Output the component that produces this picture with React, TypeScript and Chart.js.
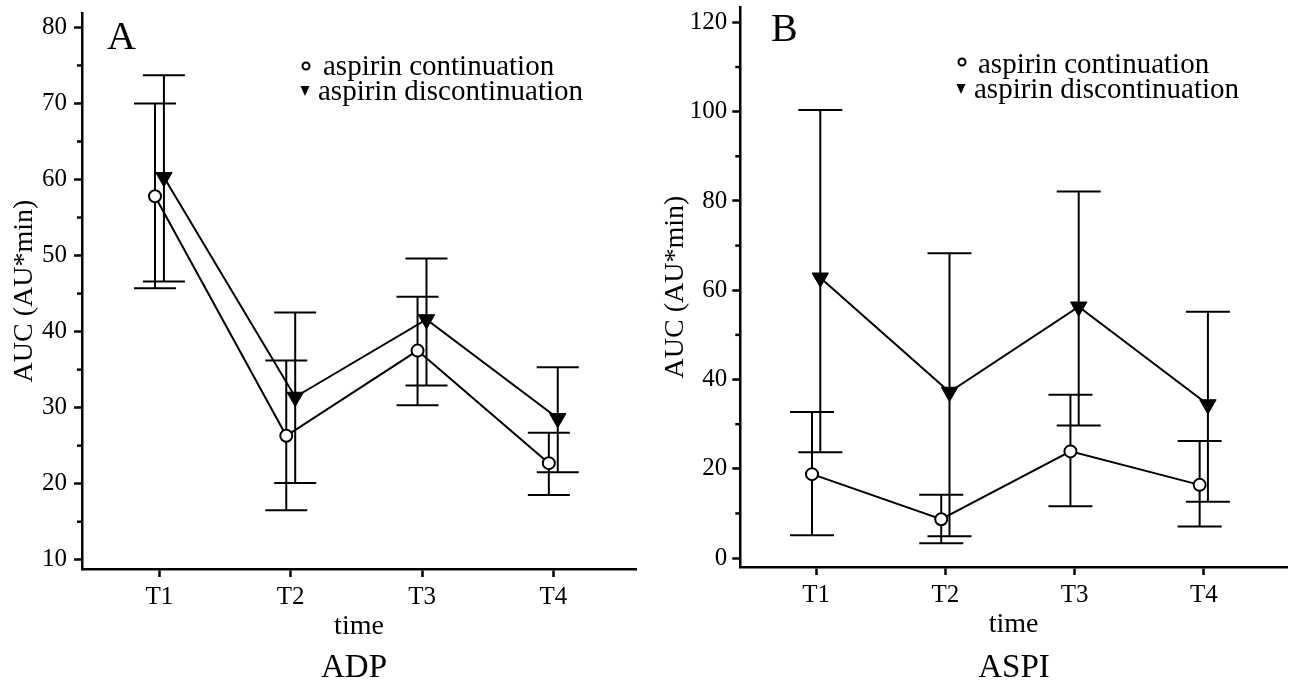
import React, { useEffect, useRef } from 'react';
import { Chart, registerables } from 'chart.js';

Chart.register(...registerables);

// ---------------- data ----------------
const timeLabels = ['T1', 'T2', 'T3', 'T4'];
const seriesNames = ['aspirin continuation', 'aspirin discontinuation'];

// Panel A: ADP
const adpContMean = [57.8, 26.3, 37.5, 22.7];
const adpContLow = [45.7, 16.5, 30.3, 18.5];
const adpContHigh = [70.0, 36.2, 44.6, 26.7];
const adpDiscMean = [60.3, 31.4, 41.6, 28.6];
const adpDiscLow = [46.6, 20.1, 32.9, 21.5];
const adpDiscHigh = [73.7, 42.5, 49.6, 35.3];

// Panel B: ASPI
const aspiContMean = [18.8, 8.7, 23.9, 16.4];
const aspiContLow = [5.1, 3.3, 11.6, 7.1];
const aspiContHigh = [32.7, 14.2, 36.6, 26.2];
const aspiDiscMean = [62.8, 37.2, 56.3, 34.4];
const aspiDiscLow = [23.7, 4.9, 29.7, 12.6];
const aspiDiscHigh = [100.4, 68.3, 82.1, 55.2];

const adpMajorTicks = [10, 20, 30, 40, 50, 60, 70, 80];
const adpMinorTicks = [15, 25, 35, 45, 55, 65, 75];
const aspiMajorTicks = [0, 20, 40, 60, 80, 100, 120];
const aspiMinorTicks = [10, 30, 50, 70, 90, 110];

const yTitle = 'AUC (AU*min)';
const xTitle = 'time';

// ---------------- styles ----------------
const FONT = '"Liberation Serif", "Times New Roman", Times, serif';
const BLACK = '#000000';

type Panel = {
  letter: string;
  title: string;
  contMean: number[]; contLow: number[]; contHigh: number[];
  discMean: number[]; discLow: number[]; discHigh: number[];
  major: number[]; minor: number[];
  yMin: number; yMax: number; xMin: number; xMax: number;
  canvasLeft: number; canvasWidth: number;
  padTop: number; padRight: number;
  yWidth: number; xHeight: number;
  yTitlePad: number; yTickPad: number; xTickPad: number; xTitlePad: number;
  capHalf: number; offset: number;
  letterX: number; letterY: number;
  legCircle: [number, number]; legText1: [number, number];
  legTri: [number, number]; legText2: [number, number];
  titleX: number; titleY: number;
};

const panels: Panel[] = [
  {
    letter: 'A', title: 'ADP',
    contMean: adpContMean, contLow: adpContLow, contHigh: adpContHigh,
    discMean: adpDiscMean, discLow: adpDiscLow, discHigh: adpDiscHigh,
    major: adpMajorTicks, minor: adpMinorTicks,
    yMin: 8.78, yMax: 81.9, xMin: 0.41, xMax: 4.63,
    canvasLeft: 0, canvasWidth: 645,
    padTop: 13, padRight: 9, yWidth: 82, xHeight: 117,
    yTitlePad: 8, yTickPad: 7, xTickPad: 5, xTitlePad: 43,
    capHalf: 21, offset: 0.034,
    letterX: 107, letterY: 49,
    legCircle: [306, 66], legText1: [323, 75],
    legTri: [305, 91], legText2: [318, 100],
    titleX: 354, titleY: 677,
  },
  {
    letter: 'B', title: 'ASPI',
    contMean: aspiContMean, contLow: aspiContLow, contHigh: aspiContHigh,
    discMean: aspiDiscMean, discLow: aspiDiscLow, discHigh: aspiDiscHigh,
    major: aspiMajorTicks, minor: aspiMinorTicks,
    yMin: -2.0, yMax: 123.45, xMin: 0.413, xMax: 4.644,
    canvasLeft: 645, canvasWidth: 646,
    padTop: 7, padRight: 4, yWidth: 95.3, xHeight: 119,
    yTitlePad: 14, yTickPad: 5, xTickPad: 5, xTitlePad: 45,
    capHalf: 22, offset: 0.032,
    letterX: 126, letterY: 41,
    legCircle: [317, 62], legText1: [333, 73],
    legTri: [316, 89], legText2: [329, 98],
    titleX: 369, titleY: 677,
  },
];

function PanelChart({ p }: { p: Panel }) {
  const ref = useRef<HTMLCanvasElement | null>(null);

  useEffect(() => {
    const canvas = ref.current;
    if (!canvas) return;

    const lows = [p.contLow, p.discLow];
    const highs = [p.contHigh, p.discHigh];

    const decor = {
      id: 'decor' + p.letter,
      beforeDatasetsDraw(chart: any) {
        const ctx = chart.ctx;
        const ys = chart.scales.y;
        ctx.save();
        ctx.strokeStyle = BLACK;
        ctx.lineWidth = 2;
        for (let d = 0; d < 2; d++) {
          const meta = chart.getDatasetMeta(d);
          meta.data.forEach((pt: any, j: number) => {
            const x = pt.x;
            const yl = ys.getPixelForValue(lows[d][j]);
            const yh = ys.getPixelForValue(highs[d][j]);
            ctx.beginPath();
            ctx.moveTo(x, yl);
            ctx.lineTo(x, yh);
            ctx.moveTo(x - p.capHalf, yl);
            ctx.lineTo(x + p.capHalf, yl);
            ctx.moveTo(x - p.capHalf, yh);
            ctx.lineTo(x + p.capHalf, yh);
            ctx.stroke();
          });
        }
        ctx.restore();
      },
      afterDraw(chart: any) {
        const ctx = chart.ctx;
        const ys = chart.scales.y;
        const left = chart.chartArea.left;
        ctx.save();
        // minor ticks
        ctx.strokeStyle = BLACK;
        ctx.lineWidth = 2.5;
        p.minor.forEach((v) => {
          const y = ys.getPixelForValue(v);
          ctx.beginPath();
          ctx.moveTo(left - 5, y);
          ctx.lineTo(left, y);
          ctx.stroke();
        });
        // panel letter
        ctx.fillStyle = BLACK;
        ctx.textBaseline = 'alphabetic';
        ctx.textAlign = 'left';
        ctx.font = `40px ${FONT}`;
        ctx.fillText(p.letter, p.letterX, p.letterY);
        // legend
        ctx.font = `29px ${FONT}`;
        ctx.fillText(seriesNames[0], p.legText1[0], p.legText1[1]);
        ctx.fillText(seriesNames[1], p.legText2[0], p.legText2[1]);
        ctx.beginPath();
        ctx.arc(p.legCircle[0], p.legCircle[1], 3.5, 0, Math.PI * 2);
        ctx.fillStyle = '#ffffff';
        ctx.fill();
        ctx.lineWidth = 2;
        ctx.strokeStyle = BLACK;
        ctx.stroke();
        ctx.beginPath();
        ctx.moveTo(p.legTri[0] - 4.5, p.legTri[1] - 5);
        ctx.lineTo(p.legTri[0] + 4.5, p.legTri[1] - 5);
        ctx.lineTo(p.legTri[0], p.legTri[1] + 5);
        ctx.closePath();
        ctx.fillStyle = BLACK;
        ctx.fill();
        // panel title below
        ctx.font = `33px ${FONT}`;
        ctx.textAlign = 'center';
        ctx.fillText(p.title, p.titleX, p.titleY);
        ctx.restore();
      },
    };

    const chart = new Chart(canvas, {
      type: 'line',
      data: {
        datasets: [
          {
            label: seriesNames[0],
            data: timeLabels.map((_, i) => ({ x: i + 1 - p.offset, y: p.contMean[i] })),
            borderColor: BLACK,
            borderWidth: 2,
            pointStyle: 'circle',
            pointRadius: 6,
            pointBackgroundColor: '#ffffff',
            pointBorderColor: BLACK,
            pointBorderWidth: 2,
            tension: 0,
          },
          {
            label: seriesNames[1],
            data: timeLabels.map((_, i) => ({ x: i + 1 + p.offset, y: p.discMean[i] })),
            borderColor: BLACK,
            borderWidth: 2,
            pointStyle: 'triangle',
            rotation: 180,
            pointRadius: 9.5,
            pointBackgroundColor: BLACK,
            pointBorderColor: BLACK,
            pointBorderWidth: 1,
            tension: 0,
          },
        ],
      },
      options: {
        animation: false,
        responsive: false,
        maintainAspectRatio: false,
        devicePixelRatio: 1,
        layout: {
          autoPadding: false,
          padding: { top: p.padTop, right: p.padRight, left: 0, bottom: 0 },
        },
        plugins: {
          legend: { display: false },
          tooltip: { enabled: false },
          title: { display: false },
        },
        scales: {
          x: {
            type: 'linear',
            min: p.xMin,
            max: p.xMax,
            afterBuildTicks: (s: any) => {
              s.ticks = timeLabels.map((_, i) => ({ value: i + 1 }));
            },
            afterFit: (s: any) => {
              s.height = p.xHeight;
              s.paddingLeft = 0;
              s.paddingRight = 0;
            },
            ticks: {
              color: BLACK,
              font: { family: FONT, size: 25 },
              padding: p.xTickPad,
              maxRotation: 0,
              autoSkip: false,
              callback: (v: any) => timeLabels[Math.round(Number(v)) - 1] ?? '',
            },
            grid: {
              display: true,
              drawOnChartArea: false,
              drawTicks: true,
              tickLength: 8,
              tickColor: BLACK,
              tickWidth: 2.5,
            },
            border: { display: true, color: BLACK, width: 2.5 },
            title: {
              display: true,
              text: xTitle,
              color: BLACK,
              font: { family: FONT, size: 28 },
              padding: { top: 0, bottom: p.xTitlePad },
            },
          },
          y: {
            type: 'linear',
            min: p.yMin,
            max: p.yMax,
            afterBuildTicks: (s: any) => {
              s.ticks = p.major.map((v) => ({ value: v }));
            },
            afterFit: (s: any) => {
              s.width = p.yWidth;
              s.paddingTop = 0;
              s.paddingBottom = 0;
            },
            ticks: {
              color: BLACK,
              font: { family: FONT, size: 25 },
              padding: p.yTickPad,
              autoSkip: false,
            },
            grid: {
              display: true,
              drawOnChartArea: false,
              drawTicks: true,
              tickLength: 8,
              tickColor: BLACK,
              tickWidth: 2.5,
            },
            border: { display: true, color: BLACK, width: 2.5 },
            title: {
              display: true,
              text: yTitle,
              color: BLACK,
              font: { family: FONT, size: 28 },
              padding: { top: p.yTitlePad, bottom: 0 },
            },
          },
        },
      },
      plugins: [decor],
    } as any);

    return () => chart.destroy();
  }, [p]);

  return (
    <canvas
      ref={ref}
      width={p.canvasWidth}
      height={686}
      style={{
        position: 'absolute',
        left: p.canvasLeft,
        top: 0,
        width: p.canvasWidth,
        height: 686,
        display: 'block',
      }}
    />
  );
}

export default function App() {
  return (
    <div
      style={{
        position: 'fixed',
        left: 0,
        top: 0,
        width: 1291,
        height: 686,
        background: '#ffffff',
        overflow: 'hidden',
      }}
    >
      {panels.map((p) => (
        <PanelChart key={p.letter} p={p} />
      ))}
    </div>
  );
}
